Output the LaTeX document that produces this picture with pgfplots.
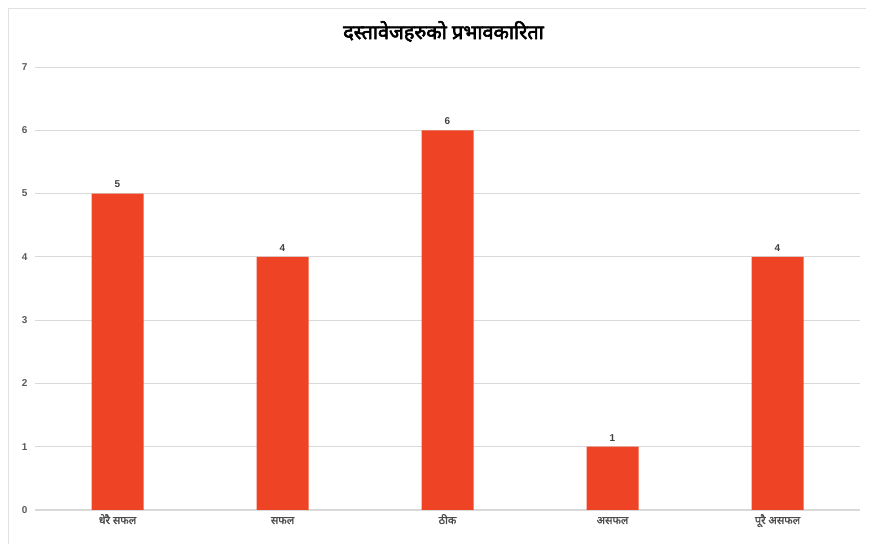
\documentclass[border=0pt]{standalone}
\usepackage{pgfplots}
\pgfplotsset{compat=1.18}
\usepackage{fontspec}
\setmainfont{Liberation Sans}
\newfontfamily\deva[Script=Devanagari]{Noto Sans}
\newfontfamily\devab[Script=Devanagari,FakeBold=3]{Noto Sans}
\newfontfamily\devat[Script=Devanagari,FakeBold=1.5]{Noto Sans}
\definecolor{barred}{HTML}{EE4425}
\definecolor{gridgray}{HTML}{D9D9D9}
\begin{document}
\begin{tikzpicture}[x=1bp,y=1bp]
\useasboundingbox (-35,-34) rectangle (839,510);
\draw[gridgray!80, line width=0.8bp] (-27,-40) -- (-27,502) -- (831,502);
\begin{axis}[
  at={(0,0)}, anchor=south west,
  scale only axis, width=825bp, height=443bp,
  xmin=-0.5, xmax=4.5, ymin=0, ymax=7,
  ytick={0,...,7},
  xtick=data,
  xticklabels={{धेरै सफल},{सफल},{ठीक},{असफल},{पूरै असफल}},
  axis line style={draw=none},
  tick style={draw=none},
  ymajorgrids, grid style={gridgray, line width=0.8bp},
  axis x line*=bottom,
  x axis line style={draw=gridgray, line width=1bp},
  yticklabel style={font=\fontsize{10}{11}\selectfont\bfseries, text=black!65, xshift=-4bp},
  xticklabel style={font=\devat\fontsize{11}{12}\selectfont, text=black!70, anchor=base, yshift=-14bp},
  /pgf/number format/assume math mode=true,
  nodes near coords,
  every node near coord/.append style={font=\fontsize{10}{11}\selectfont\bfseries, text=black!75, yshift=2bp},
  title={\devab\fontsize{20}{22}\selectfont दस्तावेजहरुको प्रभावकारिता},
  title style={at={(0.5,1)}, anchor=base, yshift=22bp, xshift=-4bp},
]
\addplot[ybar, bar width=52bp, fill=barred, draw=none] coordinates {(0,5) (1,4) (2,6) (3,1) (4,4)};
\end{axis}
\end{tikzpicture}
\end{document}
